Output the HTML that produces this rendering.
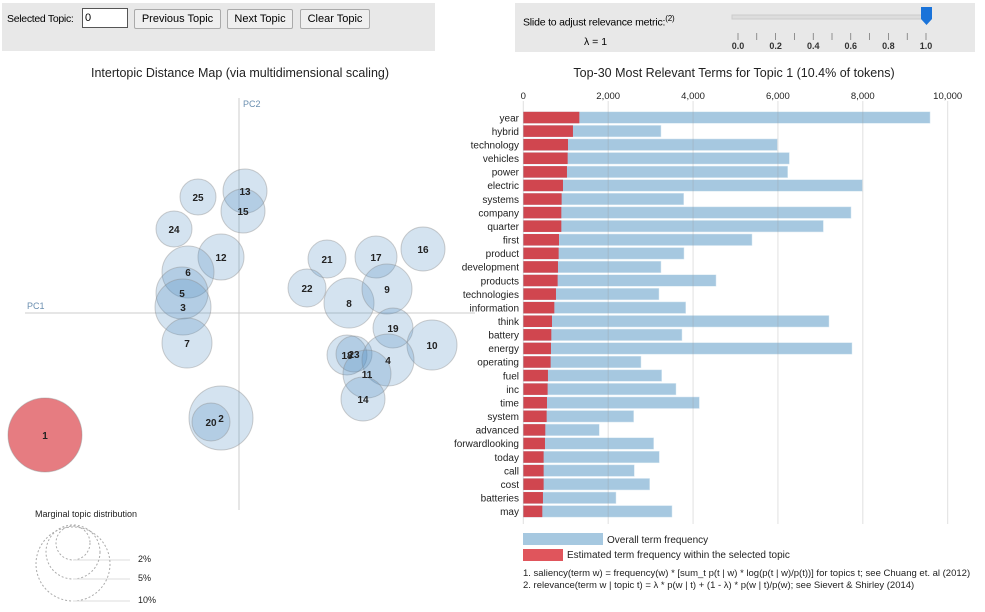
<!DOCTYPE html>
<html><head><meta charset="utf-8"><style>
body{margin:0;width:985px;height:612px;background:#fff;font-family:"Liberation Sans",sans-serif;position:relative;overflow:hidden}
.box{position:absolute;background:#e8e8e8}
button{position:absolute;font:11px "Liberation Sans",sans-serif;background:#efefef;border:1px solid #aaa;border-radius:2px;height:20px;padding:0}
</style></head><body>
<div class="box" style="left:2px;top:3px;width:433px;height:48px"></div>
<div class="box" style="left:515px;top:3px;width:460px;height:49px"></div>
<div style="position:absolute;left:7px;top:13px;font-size:10.5px;letter-spacing:-0.3px">Selected Topic:</div>
<input value="0" style="position:absolute;left:82px;top:8px;width:40px;height:16px;font-size:11px;border:1px solid #555;padding:1px 2px">
<button style="left:134px;top:9px;width:87px">Previous Topic</button>
<button style="left:227px;top:9px;width:66px">Next Topic</button>
<button style="left:300px;top:9px;width:70px">Clear Topic</button>
<div style="position:absolute;left:523px;top:14px;font-size:10.5px;letter-spacing:-0.2px">Slide to adjust relevance metric:<sup style="font-size:8px">(2)</sup></div>
<div style="position:absolute;left:584px;top:36px;font-size:10.5px">λ = 1</div>
<svg style="position:absolute;left:720px;top:5px" width="255" height="47">
<rect x="12" y="10" width="195" height="4" fill="#ddd" stroke="#ccc"/>
<g id="ticks"></g>
<path d="M201 2h11v12l-5.5 6l-5.5-6z" fill="#1a73d9"/>
</svg>
<svg id="main" width="985" height="612" style="position:absolute;left:0;top:0;pointer-events:none" font-family="Liberation Sans, sans-serif"></svg>
<script>
const NS="http://www.w3.org/2000/svg";
function mk(p,t,a,txt){const e=document.createElementNS(NS,t);for(const k in a)e.setAttribute(k,a[k]);if(txt!==undefined)e.textContent=txt;p.appendChild(e);return e;}
const tk=document.getElementById('ticks');
for(let i=0;i<=10;i++){const x=18+i*18.8;mk(tk,'line',{x1:x,x2:x,y1:28,y2:35,stroke:'#555','stroke-width':0.6});
 if(i%2==0){mk(tk,'text',{x:x,y:44,'font-size':9,'text-anchor':'middle','font-weight':'bold',fill:'#333'},(i/10).toFixed(1));}}

const svg=document.getElementById('main');
// ---------- bar chart data ----------
const terms=["year","hybrid","technology","vehicles","power","electric","systems","company","quarter","first","product","development","products","technologies","information","think","battery","energy","operating","fuel","inc","time","system","advanced","forwardlooking","today","call","cost","batteries","may"];
const overallFreq=[9584,3244,5986,6269,6229,7989,3779,7722,7070,5389,3786,3244,4541,3197,3826,7203,3739,7745,2773,3260,3598,4148,2600,1791,3071,3205,2616,2977,2184,3504];
const topicFreq=[1320,1170,1053,1045,1029,935,903,896,896,841,833,817,809,770,731,676,660,652,644,581,573,558,550,518,511,479,479,479,463,448];
const xTicks=[0,2000,4000,6000,8000,10000];
const xs=v=>523.3+v*0.04244;
const ys=i=>111.8+i*13.58;
mk(svg,'text',{x:734,y:77,'font-size':12.5,'text-anchor':'middle',fill:'#222',},'Top-30 Most Relevant Terms for Topic 1 (10.4% of tokens)');
xTicks.forEach(v=>{const g=mk(svg,'g',{});
 mk(g,'text',{x:xs(v),y:99,'font-size':9.5,'text-anchor':'middle',fill:'#222'},v.toLocaleString('en-US'));});
terms.forEach((t,i)=>{
 const b=mk(svg,'rect',{x:xs(0),y:ys(i),width:xs(overallFreq[i])-xs(0),height:11.5,fill:'#a6c8e0',stroke:'#d8e8f2','stroke-width':0.5});
 
 const r=mk(svg,'rect',{x:xs(0),y:ys(i),width:xs(topicFreq[i])-xs(0),height:11.5,fill:'#d0464f'});
 
 const l=mk(svg,'text',{x:519,y:ys(i)+9.5,'font-size':10,'text-anchor':'end',fill:'#222'},t);
 
});
xTicks.forEach(v=>mk(svg,'line',{x1:xs(v),x2:xs(v),y1:101,y2:524,stroke:'#999','stroke-opacity':0.3}));
let g=mk(svg,'g',{});
mk(g,'rect',{x:523,y:533,width:80,height:12,fill:'#a6c8e0'});
mk(g,'text',{x:607,y:543,'font-size':10,fill:'#222'},'Overall term frequency');
mk(g,'rect',{x:523,y:549,width:40,height:12,fill:'#e0555c'});
mk(g,'text',{x:567,y:558,'font-size':10,fill:'#222'},'Estimated term frequency within the selected topic');
mk(svg,'text',{x:523,y:576,'font-size':9.5,fill:'#222',},'1. saliency(term w) = frequency(w) * [sum_t p(t | w) * log(p(t | w)/p(t))] for topics t; see Chuang et. al (2012)');
mk(svg,'text',{x:523,y:588,'font-size':9.5,fill:'#222',},'2. relevance(term w | topic t) = λ * p(w | t) + (1 - λ) * p(w | t)/p(w); see Sievert & Shirley (2014)');
// ---------- topic map ----------
const topicIds=[1,2,20,13,15,25,24,12,6,5,3,7,21,17,16,22,8,9,19,10,18,23,4,11,14];
const pc1=[45,221,211,245,243,198,174,221,188,182,183,187,327,376,423,307,349,387,393,432,347,354,388,367,363];
const pc2=[435,418,422,191,211,197,229,257,272,293,307,343,259,257,249,288,303,289,328,345,355,354,360,374,399];
const radius=[37,32,19,22,22,18,18,23,26,26,28,25,19,21,22,19,25,25,20,25,20,18,26,24,22];
mk(svg,'text',{x:240,y:77,'font-size':12.5,'text-anchor':'middle',fill:'#222',},'Intertopic Distance Map (via multidimensional scaling)');
mk(svg,'line',{x1:239,x2:239,y1:98,y2:510,stroke:'#ccc'});
mk(svg,'line',{x1:25,x2:475,y1:313,y2:313,stroke:'#ccc'});
mk(svg,'text',{x:243,y:107,'font-size':9,fill:'#6b8fb0',},'PC2');
mk(svg,'text',{x:27,y:309,'font-size':9,fill:'#6b8fb0',},'PC1');
topicIds.forEach((id,i)=>{
 const c=mk(svg,'circle',{cx:pc1[i],cy:pc2[i],r:radius[i],fill:id==1?'#d9363e':'#4a8cc2','fill-opacity':id==1?0.65:0.24,stroke:'#888','stroke-opacity':0.4});
 
});
topicIds.forEach((id,i)=>{
 const t=mk(svg,'text',{x:pc1[i],y:pc2[i]+4,'font-size':10,'font-weight':'bold','text-anchor':'middle',fill:'#222'},String(id));
 
});
g=mk(svg,'g',{});
mk(g,'text',{x:35,y:517,'font-size':9,fill:'#222'},'Marginal topic distribution');
[[17,'2%',560],[27,'5%',579],[37,'10%',601]].forEach(([r,l,b])=>{
 mk(g,'circle',{cx:73,cy:b-r,r:r,fill:'none',stroke:'#aaa','stroke-dasharray':'2,2'});
 mk(g,'line',{x1:73,x2:130,y1:b,y2:b,stroke:'#ddd'});
 mk(g,'text',{x:138,y:b+2,'font-size':9,fill:'#222'},l);
});
</script>
</body></html>
